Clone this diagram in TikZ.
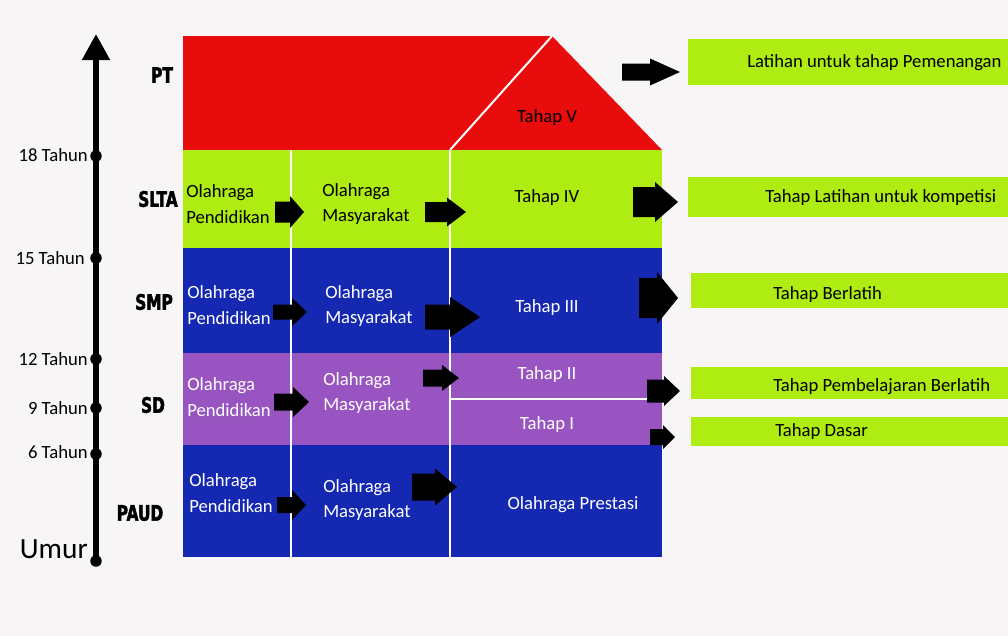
\documentclass[tikz,border=0pt]{standalone}
\usepackage{fontspec}
\setmainfont{Carlito}
\newfontfamily\heavy{DejaVu Sans Bold}[FakeStretch=0.72,FakeBold=2]
\usetikzlibrary{arrows.meta}
\definecolor{bg}{RGB}{247,245,245}
\definecolor{pred}{RGB}{232,12,12}
\definecolor{pgreen}{RGB}{174,236,18}
\definecolor{pblue}{RGB}{20,40,178}
\definecolor{ppurple}{RGB}{152,84,192}
\newcommand\blockarrow[6]{\fill[black] ({#1},{#4-#5}) -- ({#2},{#4-#5}) -- ({#2},{#4-#6}) -- ({#3},{#4}) -- ({#2},{#4+#6}) -- ({#2},{#4+#5}) -- ({#1},{#4+#5}) -- cycle;}
\begin{document}
\begin{tikzpicture}[x=0.75pt,y=-0.75pt,
  txt/.style={inner sep=0pt, font=\fontsize{14}{19}\selectfont, align=left},
  ctxt/.style={inner sep=0pt, font=\fontsize{14}{19}\selectfont, align=center},
  lvl/.style={inner sep=0pt, font=\heavy\fontsize{16}{18}\selectfont},
  age/.style={inner sep=0pt, anchor=east, font=\fontsize{14}{16}\selectfont},
  wline/.style={white, line width=1.5pt},
  gbox/.style={fill=pgreen}]
\useasboundingbox (0,0) rectangle (1008,636);
\fill[bg] (0,0) rectangle (1008,636);
% axis
\coordinate (ax0) at (96,561);
\coordinate (axtop) at (96,34);
\draw[line width=4.5pt, -{Triangle[length=19.5pt,width=20pt]}] (ax0) -- (axtop);
\foreach \yy in {156,258,359,408,454,561}{\fill[black] (96,\yy) circle[radius=4.3pt];}
\node[age] (a18) at (88,155) {18 Tahun};
\node[age] (a15) at (85,258) {15 Tahun};
\node[age] (a12) at (88,359) {12 Tahun};
\node[age] (a9) at (88,408) {9 Tahun};
\node[age] (a6) at (88,452) {6 Tahun};
\node[age, font=\fontsize{22}{24}\selectfont] (umur) at (88,549) {Umur};
% level labels
\node[lvl] (pt) at (162,75) {PT};
\node[lvl] (slta) at (158,199) {SLTA};
\node[lvl] (smp) at (154,302) {SMP};
\node[lvl] (sd) at (153,405) {SD};
\node[lvl] (paud) at (140,513) {PAUD};
% blocks
\fill[pred] (183,36) -- (552,36) -- (662,150) -- (183,150) -- cycle;
\fill[pgreen] (183,150) rectangle (662,248);
\fill[pblue] (183,248) rectangle (662,353);
\fill[ppurple] (183,353) rectangle (662,445);
\fill[pblue] (183,445) rectangle (662,557);
\draw[wline] (291,150) -- (291,557);
\draw[wline] (450,150) -- (450,557);
\draw[wline] (552,36) -- (450,150);
\draw[wline] (450,399) -- (652,399);
% block texts
\node[txt, anchor=west] (s1) at (186,204) {Olahraga\\Pendidikan};
\node[txt, anchor=west] (s2) at (322,204) {Olahraga\\Masyarakat};
\node[ctxt] (t5) at (547,118) {Tahap V};
\node[ctxt] (t4) at (547,198) {Tahap IV};
\node[txt, anchor=west, text=white] (m1) at (187,305) {Olahraga\\Pendidikan};
\node[txt, anchor=west, text=white] (m2) at (325,306) {Olahraga\\Masyarakat};
\node[ctxt, text=white] (t3) at (547,308) {Tahap III};
\node[txt, anchor=west, text=white] (d1) at (187,397) {Olahraga\\Pendidikan};
\node[txt, anchor=west, text=white] (d2) at (323,393) {Olahraga\\Masyarakat};
\node[ctxt, text=white] (t2) at (547,375) {Tahap II};
\node[ctxt, text=white] (t1) at (547,425) {Tahap I};
\node[txt, anchor=west, text=white] (p1) at (189,493) {Olahraga\\Pendidikan};
\node[txt, anchor=west, text=white] (p2) at (323,500) {Olahraga\\Masyarakat};
\node[ctxt, text=white] (op) at (573,505) {Olahraga Prestasi};
% right boxes
\fill[gbox] (688,39) rectangle (1008,85);
\fill[gbox] (688,177) rectangle (1008,217);
\fill[gbox] (691,273) rectangle (1008,308);
\fill[gbox] (691,367) rectangle (1008,399);
\fill[gbox] (691,417) rectangle (1008,446);
\node[txt, anchor=west] (r1) at (747,63) {Latihan untuk tahap Pemenangan};
\node[txt, anchor=west] (r2) at (765,198) {Tahap Latihan untuk kompetisi};
\node[txt, anchor=west] (r3) at (773,295) {Tahap Berlatih};
\node[txt, anchor=west] (r4) at (773,387) {Tahap Pembelajaran Berlatih};
\node[txt, anchor=west] (r5) at (775,432) {Tahap Dasar};
% block arrows
\blockarrow{622}{650}{680}{72}{8.5}{13.5}
\blockarrow{633}{655}{678}{202}{15}{20}
\blockarrow{639}{657}{678}{298}{20}{26}
\blockarrow{647}{664}{680}{391}{11.5}{15}
\blockarrow{650}{663}{675}{437}{8}{12}
\blockarrow{275}{290}{304}{212}{10.5}{16}
\blockarrow{425}{447}{466}{212}{10}{14.5}
\blockarrow{273}{292}{307}{312}{7.5}{14}
\blockarrow{425}{450}{480}{317}{12.5}{20}
\blockarrow{274}{293}{309}{402}{8.5}{15}
\blockarrow{423}{442}{459}{378}{8.5}{13}
\blockarrow{277}{292}{306}{505}{8}{15}
\blockarrow{412}{435}{457}{487}{13.5}{18.5}
\end{tikzpicture}
\end{document}
